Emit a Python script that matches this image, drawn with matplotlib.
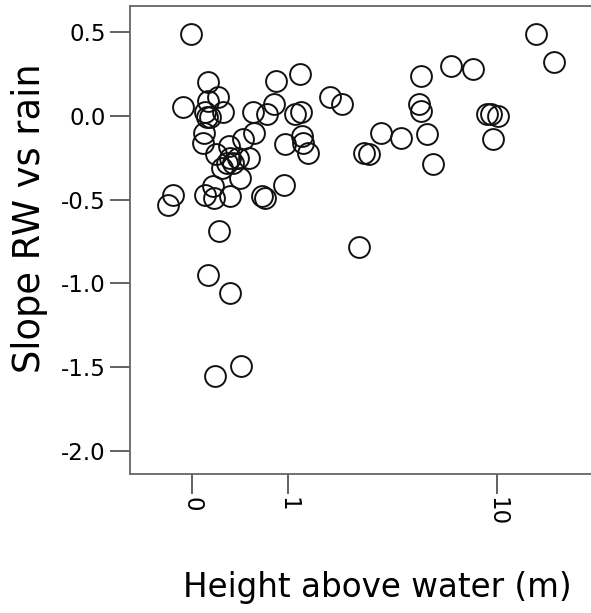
import numpy as np
import matplotlib
matplotlib.use("Agg")
import matplotlib.pyplot as plt

plt.rcParams['axes.unicode_minus'] = False
plt.rcParams['font.family'] = ['DejaVu Sans']

# height above water, already on the square-root axis (sqrt of metres)
height_sqrt = [
    -0.01, 3.57, 3.75, 2.69, 2.91, 2.38, 1.12, 0.87, 0.17, 0.27,
    0.17, -0.09, 0.32, 0.14, 0.16, 0.63, 0.78, 0.85, 1.07, 1.13,
    1.43, 1.56, 2.35, 2.38, 3.06, 3.10, 3.17, 3.12, 1.96, 2.17,
    2.44, 1.79, 1.84, 2.50, 1.73, 0.13, 0.12, 0.53, 0.65, 0.97,
    1.14, 1.15, 1.20, 0.25, 0.39, 0.40, 0.31, 0.48, 0.59, 0.50,
    0.36, 0.96, -0.19, -0.25, 0.14, 0.22, 0.23, 0.40, 0.73, 0.76,
    0.28, 0.17, 0.40, 0.51, 0.24, 0.43, 0.19,
]
slope = [
    0.49, 0.49, 0.32, 0.30, 0.28, 0.24, 0.25, 0.21, 0.20, 0.11,
    0.09, 0.05, 0.02, 0.02, -0.01, 0.02, 0.01, 0.07, 0.01, 0.02,
    0.11, 0.07, 0.07, 0.03, 0.01, 0.01, 0.00, -0.14, -0.10, -0.13,
    -0.11, -0.22, -0.23, -0.29, -0.78, -0.10, -0.16, -0.14, -0.10, -0.17,
    -0.12, -0.16, -0.22, -0.23, -0.18, -0.25, -0.31, -0.25, -0.25, -0.37,
    -0.28, -0.41, -0.47, -0.53, -0.47, -0.42, -0.49, -0.48, -0.48, -0.49,
    -0.69, -0.95, -1.06, -1.49, -1.55, -0.28, -0.01,
]

x_ticks = [0, 1, 10]
y_ticks = [0.5, 0.0, -0.5, -1.0, -1.5, -2.0]

fig = plt.figure(figsize=(5.91, 6.13), dpi=100)
ax = fig.add_axes([0.22, 0.2268, 0.80, 0.7634])

ax.plot(height_sqrt, slope, linestyle='none', marker='o', markersize=15,
        markerfacecolor='none', markeredgecolor='#111111', markeredgewidth=1.4)

ax.set_xlim(-0.64, 4.26)
ax.set_ylim(-2.137, 0.655)

ax.set_xticks(np.sqrt(x_ticks))
ax.set_xticklabels([str(t) for t in x_ticks], rotation=270, fontsize=16.5)
ax.set_yticks(y_ticks)
ax.set_yticklabels(['%.1f' % t for t in y_ticks], fontsize=16.5)

for side in ['left', 'bottom', 'top']:
    ax.spines[side].set_color('#666666')
    ax.spines[side].set_linewidth(1.3)
ax.spines['right'].set_visible(False)
ax.tick_params(axis='both', direction='out', length=14.5, width=1.3,
               color='#555555', labelcolor='black')
ax.tick_params(axis='x', pad=2)
ax.tick_params(axis='y', pad=3)

fig.text(0.05, 1 - 218 / 613, 'Slope RW vs rain', rotation=90,
         ha='center', va='center', fontsize=26.5)
fig.text(0.638, 0.042, 'Height above water (m)', ha='center', va='center',
         fontsize=23.5)

fig.savefig('out.png', dpi=100)
